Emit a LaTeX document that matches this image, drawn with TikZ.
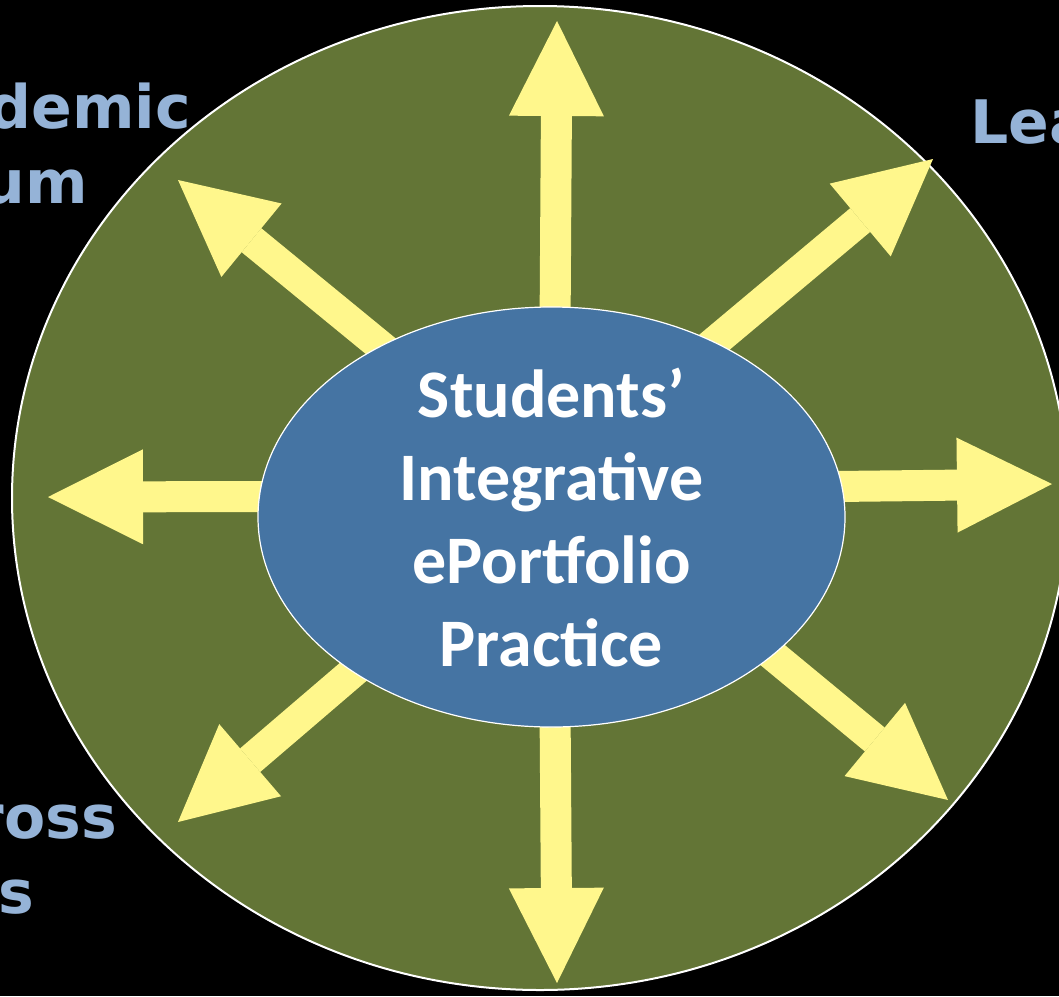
\documentclass[tikz,border=0pt]{standalone}
\usepackage{fontspec}
\usetikzlibrary{arrows.meta,shapes.geometric}
\newfontfamily\hubfont{Carlito}
\newfontfamily\sidefont{DejaVu Sans}
\definecolor{fieldgreen}{RGB}{99,117,54}
\definecolor{hubblue}{RGB}{69,116,163}
\definecolor{spokeyellow}{RGB}{255,247,140}
\definecolor{labelblue}{RGB}{149,179,215}
\pgfdeclarelayer{front}
\pgfsetlayers{main,front}
\begin{document}
\begin{tikzpicture}[x=1pt,y=-1pt,
  spoke/.style={draw=spokeyellow,line width=31pt,shorten <=-40pt,
    -{Triangle[length=95pt,width=95pt,line width=0pt]}},
  side/.style={font=\sidefont\bfseries\fontsize{60}{75}\selectfont,text=labelblue,inner sep=0pt}]
\useasboundingbox[fill=black] (0,0) rectangle (1059,996);
\clip (0,0) rectangle (1059,996);
\draw[white,line width=2pt,fill=fieldgreen] (540,498) ellipse [x radius=528pt,y radius=492pt];
% cut-off side captions
\node[side,anchor=base east] (capA) at (191,128) {demic};
\node[side,anchor=base east] (capB) at (88,203) {um};
\node[side,anchor=base west] (capC) at (970,143) {Lea};
\node[side,anchor=base east] (capD) at (117,838) {ross};
\node[side,anchor=base east] (capE) at (34,913) {s};
\begin{pgfonlayer}{front}
\node[ellipse,draw=white,line width=1.2pt,fill=hubblue,minimum width=587pt,minimum height=420pt,inner sep=0pt] (hub) at (551.5,517) {};
\node[align=center,text=white,font=\hubfont\bfseries\fontsize{68}{83}\selectfont] (title) at (551.5,518) {Students’\\Integrative\\ePortfolio\\Practice};
\end{pgfonlayer}
\coordinate (tipN) at (557,21);
\coordinate (tipS) at (557,983);
\coordinate (tipW) at (48,497);
\coordinate (tipE) at (1052,484);
\coordinate (tipNW) at (178,180);
\coordinate (tipNE) at (933,159);
\coordinate (tipSW) at (178,822);
\coordinate (tipSE) at (948,800);
\draw[spoke] (hub.89) -- (tipN);
\draw[spoke] (hub.271) -- (tipS);
\draw[spoke] (hub.176) -- (tipW);
\draw[spoke] (hub.6) -- (tipE);
\draw[spoke] (hub.135) -- (tipNW);
\draw[spoke] (hub.47) -- (tipNE);
\draw[spoke] (hub.218) -- (tipSW);
\draw[spoke] (hub.328) -- (tipSE);
\end{tikzpicture}
\end{document}
